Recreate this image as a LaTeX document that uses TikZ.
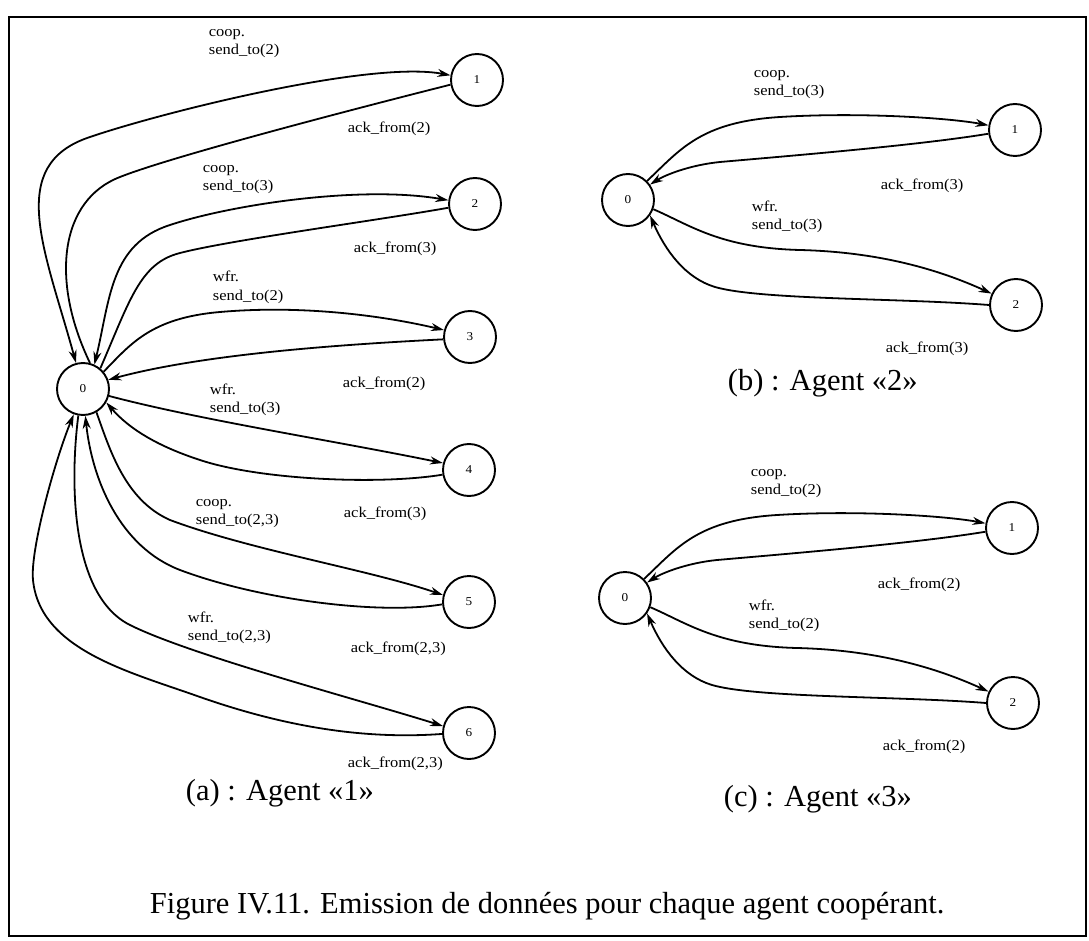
\documentclass[tikz,border=0pt]{standalone}
\usepackage{fontspec}
\setmainfont{Liberation Serif}
\newfontfamily\lblfont{Liberation Serif}[FakeStretch=1.1]
\usetikzlibrary{arrows.meta}
\begin{document}
\begin{tikzpicture}[x=1pt,y=-1pt,line width=1.8pt,
  >={Stealth[length=13pt,width=8pt]},
  state/.style={circle,draw,line width=1.9pt,minimum size=52pt,inner sep=0pt,
    font=\lblfont\fontsize{12}{12}\selectfont},
  lbl/.style={anchor=base west,inner sep=0pt,align=left,
    font=\lblfont\fontsize{15}{18}\selectfont},
  figtext/.style={anchor=base west,inner sep=0pt,font=\fontsize{30.5}{36}\selectfont}]
\useasboundingbox (0,0) rectangle (1089,941);
\draw[line width=2.8pt] (9,17) rectangle (1086,936);
% (a) agent 1
\node[state] (a0) at (83,389) {0};
\node[state] (a1) at (477,80) {1};
\node[state] (a2) at (475,204) {2};
\node[state] (a3) at (470,337) {3};
\node[state] (a4) at (469,470) {4};
\node[state] (a5) at (469,602) {5};
\node[state] (a6) at (469,733) {6};
\draw[<->] (a0.105) .. controls (45,250) and (5,165) .. (90,137)
  .. controls (160,113) and (370,60) .. (a1.170);
\draw (a1.190) .. controls (350,110) and (170,157) .. (120,177)
  .. controls (60,200) and (50,280) .. (a0.75);
\draw[<->] (a0.65) .. controls (110,300) and (110,244) .. (170,225)
  .. controls (230,205) and (360,185) .. (a2.172);
\draw (a2.188) .. controls (380,220) and (230,240) .. (180,253)
  .. controls (140,263) and (130,300) .. (a0.50);
\draw[->] (a0.40) .. controls (130,345) and (150,318) .. (220,312)
  .. controls (300,305) and (380,315) .. (a3.165);
\draw[->] (a3.185) .. controls (330,345) and (200,355) .. (a0.20);
\draw[->] (a0.-15) .. controls (200,420) and (330,440) .. (a4.165);
\draw[->] (a4.190) .. controls (380,485) and (260,480) .. (200,460)
  .. controls (160,447) and (130,430) .. (a0.-30);
\draw[->] (a0.-60) .. controls (110,450) and (125,500) .. (170,520)
  .. controls (250,550) and (370,570) .. (a5.165);
\draw[->] (a5.185) .. controls (380,615) and (260,600) .. (180,570)
  .. controls (120,547) and (92,480) .. (a0.-85);
\draw[->] (a0.-100) .. controls (70,480) and (70,595) .. (130,625)
  .. controls (190,655) and (360,700) .. (a6.165);
\draw[->] (a6.182) .. controls (360,740) and (280,725) .. (200,697)
  .. controls (130,672) and (40,650) .. (33,580)
  .. controls (30,550) and (55,460) .. (a0.-110);
\node[lbl] (s1) at (208,55) {coop.\\send\_to(2)};
\node[lbl] (r1) at (347,133) {ack\_from(2)};
\node[lbl] (s2) at (202,191) {coop.\\send\_to(3)};
\node[lbl] (r2) at (353,253) {ack\_from(3)};
\node[lbl] (s3) at (212,300) {wfr.\\send\_to(2)};
\node[lbl] (r3) at (342,387) {ack\_from(2)};
\node[lbl] (s4) at (209,412) {wfr.\\send\_to(3)};
\node[lbl] (r4) at (343,517) {ack\_from(3)};
\node[lbl] (s5) at (195,524) {coop.\\send\_to(2,3)};
\node[lbl] (r5) at (350,652) {ack\_from(2,3)};
\node[lbl] (s6) at (187,640) {wfr.\\send\_to(2,3)};
\node[lbl] (r6) at (347,767) {ack\_from(2,3)};
\node[figtext] (capa) at (185,800) {(a) : Agent «1»};
% (b) agent 2 and (c) agent 3
\foreach \p/\dx/\dy/\k in {b/0/0/3, c/-3/398/2}{
\begin{scope}[shift={(\dx,\dy)}]
\node[state] (\p0) at (628,200) {0};
\node[state] (\p1) at (1015,130) {1};
\node[state] (\p2) at (1016,305) {2};
\draw[->] (\p0.45) .. controls (680,150) and (700,122) .. (780,117)
  .. controls (860,112) and (950,118) .. (\p1.170);
\draw[->] (\p1.188) .. controls (920,145) and (800,155) .. (720,162)
  .. controls (690,165) and (665,175) .. (\p0.35);
\draw[->] (\p0.-20) .. controls (690,225) and (720,248) .. (800,250)
  .. controls (880,252) and (940,270) .. (\p2.155);
\draw[->] (\p2.180) .. controls (900,298) and (760,300) .. (715,287)
  .. controls (685,278) and (665,250) .. (\p0.-35);
\node[lbl] (\p s1) at (753,96) {coop.\\send\_to(\k)};
\node[lbl] (\p r1) at (880,190) {ack\_from(\k)};
\node[lbl] (\p s2) at (751,230) {wfr.\\send\_to(\k)};
\node[lbl] (\p r2) at (885,352) {ack\_from(\k)};
\end{scope}}
\node[figtext] (capb) at (727,390) {(b) : Agent «2»};
\node[figtext] (capc) at (723,806) {(c) : Agent «3»};
\node[figtext] (fig) at (149,913) {Figure IV.11. Emission de données pour chaque agent coopérant.};
\end{tikzpicture}
\end{document}
